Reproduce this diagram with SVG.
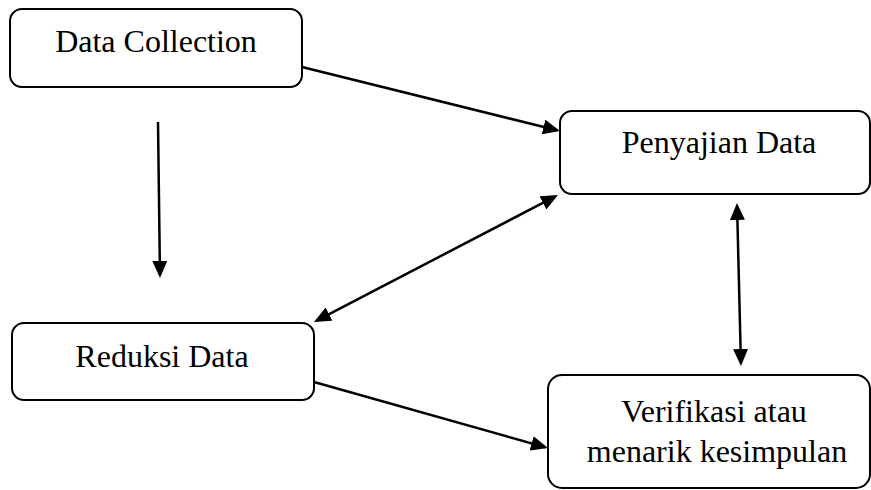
<svg xmlns="http://www.w3.org/2000/svg" width="871" height="490" viewBox="0 0 871 490">
  <style>
    .box { fill: #ffffff; stroke: #000000; stroke-width: 2; }
    .label { font-family: "Liberation Serif", "Times New Roman", serif; font-size: 32px; fill: #000000; text-anchor: middle; }
    .conn { stroke: #000000; stroke-width: 2.5; fill: none; }
  </style>
  <defs>
    <marker id="head" viewBox="0 0 17 15" refX="14" refY="7.5" markerWidth="17" markerHeight="15" markerUnits="userSpaceOnUse" orient="auto-start-reverse">
      <path d="M0,0 L17,7.5 L0,15 z" fill="#000000"/>
    </marker>
  </defs>
  <rect width="871" height="490" fill="#ffffff"/>

  <g id="node-data-collection">
    <rect class="box" x="10" y="9" width="292" height="78" rx="12" ry="12"/>
    <text class="label" x="156" y="52">Data Collection</text>
  </g>

  <g id="node-penyajian-data">
    <rect class="box" x="560" y="111" width="310" height="83" rx="12" ry="12"/>
    <text class="label" x="719" y="153">Penyajian Data</text>
  </g>

  <g id="node-reduksi-data">
    <rect class="box" x="12" y="323" width="302" height="77" rx="12" ry="12"/>
    <text class="label" x="162" y="367">Reduksi Data</text>
  </g>

  <g id="node-verifikasi">
    <rect class="box" x="548" y="375" width="322" height="113" rx="14" ry="14"/>
    <text class="label" x="714" y="422">Verifikasi atau</text>
    <text class="label" x="717" y="462">menarik kesimpulan</text>
  </g>

  <g id="connectors">
    <!-- Data Collection to Penyajian Data -->
    <line class="conn" x1="302" y1="67" x2="557.1" y2="130.3" marker-end="url(#head)"/>
    <!-- Data Collection down to Reduksi Data -->
    <line class="conn" x1="158" y1="122" x2="159.96" y2="275" marker-end="url(#head)"/>
    <!-- Reduksi Data and Penyajian Data, both ways -->
    <line class="conn" x1="316.66" y1="320.6" x2="555.34" y2="196.4" marker-start="url(#head)" marker-end="url(#head)"/>
    <!-- Penyajian Data and Verifikasi, both ways -->
    <line class="conn" x1="737.07" y1="206" x2="740.93" y2="363" marker-start="url(#head)" marker-end="url(#head)"/>
    <!-- Reduksi Data to Verifikasi -->
    <line class="conn" x1="314" y1="382" x2="545.1" y2="447.2" marker-end="url(#head)"/>
  </g>
</svg>
